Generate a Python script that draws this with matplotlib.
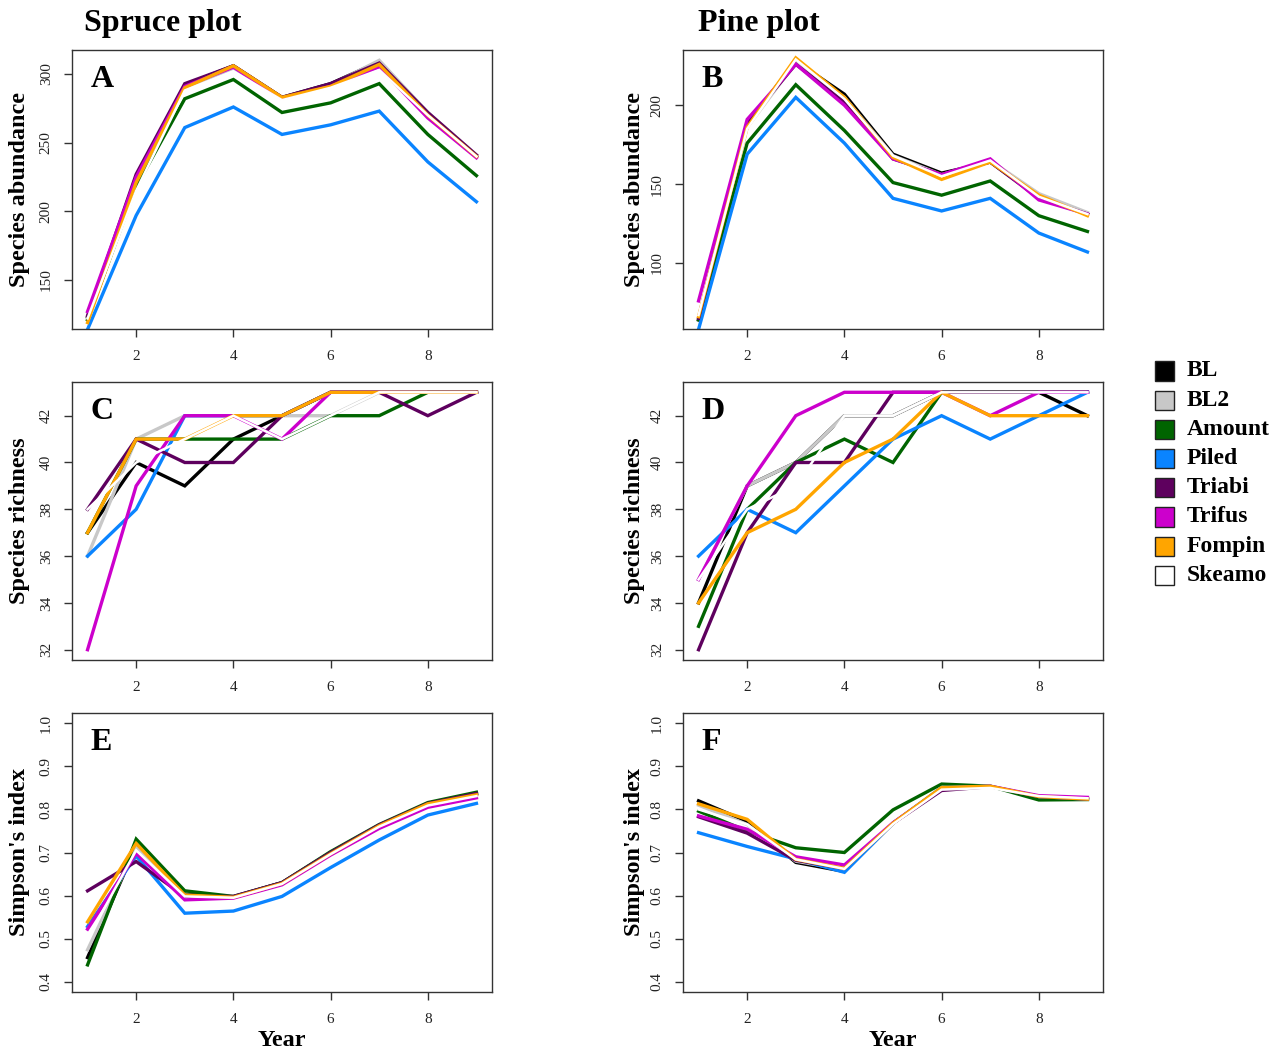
import numpy as np
import matplotlib
matplotlib.use("Agg")
import matplotlib.pyplot as plt
from matplotlib.patches import Rectangle

plt.rcParams['font.family'] = ['Liberation Serif', 'DejaVu Serif']

years = [1, 2, 3, 4, 5, 6, 7, 8, 9]
treatments = ['BL', 'BL2', 'Amount', 'Piled', 'Triabi', 'Trifus', 'Fompin', 'Skeamo']
colors = ['#000000', '#C8C8C8', '#006400', '#0A84FF', '#5E005E', '#CC00CC', '#FFA500', '#FFFFFF']

# rows follow the order of `treatments`
spruce_abund = [
    [123, 224, 292, 306, 283, 293, 309, 271, 240],
    [122, 220, 290, 304, 282, 292, 310, 272, 241],
    [121, 218, 282, 296, 272, 279, 293, 256, 226],
    [114, 197, 261, 276, 256, 263, 273, 236, 207],
    [124, 227, 293, 306, 283, 293, 308, 272, 241],
    [127, 225, 291, 305, 282, 291, 305, 268, 239],
    [119, 221, 290, 306, 283, 291, 307, 270, 240],
    [122, 215, 288, 302, 281, 290, 303, 270, 240],
]
pine_abund = [
    [64, 188, 228, 207, 169, 157, 164, 142, 131],
    [65, 186, 227, 205, 168, 156, 165, 144, 132],
    [64, 176, 213, 184, 151, 143, 152, 130, 120],
    [58, 169, 205, 176, 141, 133, 141, 119, 107],
    [65, 189, 226, 202, 166, 156, 164, 141, 131],
    [76, 191, 226, 200, 166, 156, 166, 140, 131],
    [66, 186, 230, 205, 167, 153, 164, 143, 130],
    [67, 185, 229, 204, 168, 155, 165, 142, 131],
]
spruce_rich = [
    [37, 40, 39, 41, 42, 43, 43, 43, 43],
    [36, 41, 42, 42, 42, 42, 43, 43, 43],
    [37, 41, 41, 41, 41, 42, 42, 43, 43],
    [36, 38, 42, 42, 42, 43, 43, 43, 43],
    [38, 41, 40, 40, 42, 43, 43, 42, 43],
    [32, 39, 42, 42, 41, 43, 43, 43, 43],
    [37, 41, 41, 42, 42, 43, 43, 43, 43],
    [38, 40, 41, 42, 41, 42, 43, 43, 43],
]
pine_rich = [
    [34, 39, 40, 42, 42, 43, 43, 43, 42],
    [35, 39, 40, 42, 42, 43, 43, 43, 43],
    [33, 38, 40, 41, 40, 43, 43, 43, 43],
    [36, 38, 37, 39, 41, 42, 41, 42, 43],
    [32, 37, 40, 40, 43, 43, 43, 43, 43],
    [35, 39, 42, 43, 43, 43, 42, 43, 43],
    [34, 37, 38, 40, 41, 43, 42, 42, 42],
    [35, 38, 39, 42, 42, 43, 43, 43, 43],
]
spruce_simp = [
    [0.456, 0.715, 0.603, 0.597, 0.630, 0.700, 0.763, 0.813, 0.836],
    [0.474, 0.712, 0.601, 0.596, 0.629, 0.699, 0.762, 0.812, 0.835],
    [0.439, 0.731, 0.611, 0.598, 0.630, 0.702, 0.765, 0.816, 0.840],
    [0.528, 0.692, 0.559, 0.564, 0.598, 0.665, 0.729, 0.787, 0.814],
    [0.611, 0.679, 0.598, 0.598, 0.630, 0.700, 0.764, 0.814, 0.837],
    [0.522, 0.698, 0.590, 0.594, 0.625, 0.694, 0.756, 0.805, 0.827],
    [0.539, 0.721, 0.601, 0.596, 0.628, 0.697, 0.762, 0.813, 0.834],
    [0.500, 0.705, 0.598, 0.595, 0.627, 0.696, 0.760, 0.809, 0.831],
]
pine_simp = [
    [0.820, 0.772, 0.677, 0.656, 0.768, 0.849, 0.853, 0.830, 0.824],
    [0.810, 0.765, 0.680, 0.660, 0.768, 0.848, 0.853, 0.830, 0.824],
    [0.796, 0.750, 0.711, 0.700, 0.799, 0.859, 0.854, 0.822, 0.823],
    [0.746, 0.714, 0.685, 0.654, 0.768, 0.851, 0.854, 0.830, 0.824],
    [0.783, 0.745, 0.682, 0.663, 0.768, 0.844, 0.853, 0.830, 0.824],
    [0.785, 0.754, 0.690, 0.671, 0.769, 0.849, 0.854, 0.832, 0.828],
    [0.813, 0.777, 0.684, 0.663, 0.768, 0.851, 0.854, 0.830, 0.824],
    [0.800, 0.765, 0.684, 0.662, 0.766, 0.846, 0.850, 0.831, 0.826],
]

W, H = 1286, 1057
fig = plt.figure(figsize=(W / 100, H / 100), dpi=100)


def px_axes(left, top, right, bottom):
    return fig.add_axes([left / W, 1 - bottom / H, (right - left) / W, (bottom - top) / H])


panels = [
    # data, letter, ylim, yticks, ylabel, box (l, t, r, b) in px
    (spruce_abund, 'A', (114.3, 317.5), [150, 200, 250, 300], 'Species abundance', (72, 50, 492, 329)),
    (pine_abund, 'B', (58.2, 235.0), [100, 150, 200], 'Species abundance', (683, 50, 1103, 329)),
    (spruce_rich, 'C', (31.56, 43.44), [32, 34, 36, 38, 40, 42], 'Species richness', (72, 382, 492, 660)),
    (pine_rich, 'D', (31.56, 43.44), [32, 34, 36, 38, 40, 42], 'Species richness', (683, 382, 1103, 660)),
    (spruce_simp, 'E', (0.376, 1.024), [0.4, 0.5, 0.6, 0.7, 0.8, 0.9, 1.0], "Simpson's index", (72, 713, 492, 992)),
    (pine_simp, 'F', (0.376, 1.024), [0.4, 0.5, 0.6, 0.7, 0.8, 0.9, 1.0], "Simpson's index", (683, 713, 1103, 992)),
]

edge = '#333333'
for data, letter, ylim, yticks, ylabel, box in panels:
    ax = px_axes(*box)
    for name, col, vals in zip(treatments, colors, data):
        lw = 1.8 if name == 'Skeamo' else 2.4
        ax.plot(years, vals, color=col, lw=lw, solid_joinstyle='miter')
    ax.set_xlim(0.68, 9.32)
    ax.set_ylim(*ylim)
    ax.set_xticks([2, 4, 6, 8])
    ax.set_yticks(yticks)
    if letter in 'EF':
        ax.set_yticklabels([f'{v:.1f}' for v in yticks])
    for s in ax.spines.values():
        s.set_color(edge)
        s.set_linewidth(1.0)
    ax.tick_params(axis='both', direction='out', length=5.8, width=1.0, color=edge,
                   labelsize=11, labelcolor='#222222')
    ax.tick_params(axis='x', pad=9.5)
    ax.tick_params(axis='y', pad=8.0)
    plt.setp(ax.get_yticklabels(), rotation=90, va='center')
    ax.set_ylabel(ylabel, fontsize=17.5, fontweight='bold')
    ax.yaxis.set_label_coords(-0.10 if letter in 'ACE' else -0.09, 0.5)
    ax.text(0.045, 0.895, letter, transform=ax.transAxes, fontsize=23, fontweight='bold',
            ha='left', va='center')
    if letter in 'EF':
        ax.set_xlabel('Year', fontsize=17.5, fontweight='bold')
        ax.xaxis.set_label_coords(0.5, -0.136)

fig.text(84 / W, 1 - 24 / H, 'Spruce plot', ha='left', va='center', fontsize=23, fontweight='bold')
fig.text(698 / W, 1 - 24 / H, 'Pine plot', ha='left', va='center', fontsize=23, fontweight='bold')

# legend on the right
row0, step = 371, 29.2
for i, (name, col) in enumerate(zip(treatments, colors)):
    yc = row0 + i * step
    fig.add_artist(Rectangle((1155 / W, 1 - (yc + 9.5) / H), 19 / W, 19 / H,
                             transform=fig.transFigure, facecolor=col, edgecolor='#222222', lw=1.0))
    fig.text(1187 / W, 1 - yc / H, name, ha='left', va='center', fontsize=17, fontweight='bold')

fig.savefig('out.png', dpi=100)
